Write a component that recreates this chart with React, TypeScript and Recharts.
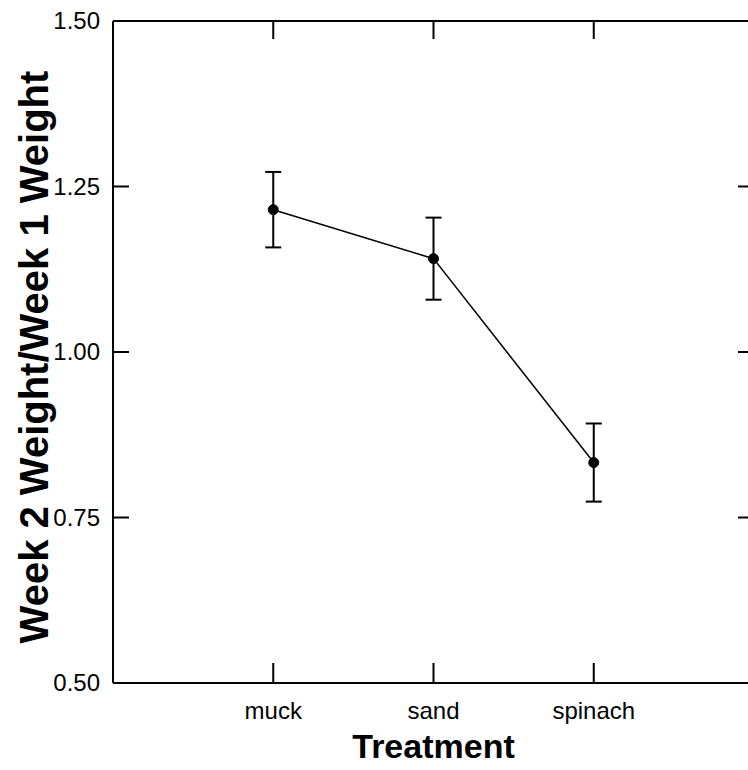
import {
    LineChart,
    Line,
    XAxis,
    YAxis,
    ErrorBar,
    Label,
} from "recharts";

const treatments = ["muck", "sand", "spinach"];
const positions = [1, 2, 3];
const ratios = [1.215, 1.141, 0.833];
const errors = [0.057, 0.062, 0.059];
const yTicks = [0.5, 0.75, 1.0, 1.25, 1.5];
const innerYTicks = [0.75, 1.0, 1.25];

const data = positions.map((p, i) => ({
    pos: p,
    ratio: ratios[i],
    err: errors[i],
}));

const font = "'Liberation Sans', Arial, sans-serif";

function BottomTick(props: any) {
    const { x, y, payload } = props;
    const idx = positions.indexOf(payload.value);
    return (
        <g>
            <line x1={x} x2={x} y1={y} y2={y - 20} stroke="#000" strokeWidth={2} />
            <text x={x} y={y + 36} textAnchor="middle" fontSize={24} fontFamily={font} fill="#000">
                {idx >= 0 ? treatments[idx] : ""}
            </text>
        </g>
    );
}

function TopTick(props: any) {
    const { x, y } = props;
    return <line x1={x} x2={x} y1={y} y2={y + 18} stroke="#000" strokeWidth={2} />;
}

function LeftTick(props: any) {
    const { x, y, payload } = props;
    const inner = innerYTicks.includes(payload.value);
    return (
        <g>
            {inner && <line x1={x} x2={x + 16} y1={y} y2={y} stroke="#000" strokeWidth={2} />}
            <text x={x - 13} y={y + 8} textAnchor="end" fontSize={24} fontFamily={font} fill="#000">
                {payload.value.toFixed(2)}
            </text>
        </g>
    );
}

function RightTick(props: any) {
    const { x, y } = props;
    return <line x1={x} x2={x - 16} y1={y} y2={y} stroke="#000" strokeWidth={2} />;
}

function YTitle() {
    const cy = 357;
    const cx = 48;
    return (
        <text
            x={cx}
            y={cy}
            transform={`rotate(-90, ${cx}, ${cy})`}
            textAnchor="middle"
            fontSize={40}
            fontWeight="bold"
            fontFamily={font}
            fill="#000"
        >
            Week 2 Weight/Week 1 Weight
        </text>
    );
}

export default function App() {
    return (
        <div
            style={{
                position: "absolute",
                left: 0,
                top: 0,
                width: 748,
                height: 770,
                overflow: "hidden",
                background: "#fff",
            }}
        >
            <LineChart
                width={760}
                height={770}
                data={data}
                margin={{ top: 0, right: 0, bottom: 0, left: 0 }}
            >
                <XAxis
                    dataKey="pos"
                    type="number"
                    domain={[0, 4]}
                    ticks={positions}
                    height={87}
                    tickSize={0}
                    tickMargin={0}
                    tickLine={false}
                    axisLine={{ stroke: "#000", strokeWidth: 2 }}
                    tick={<BottomTick />}
                >
                    <Label
                        value="Treatment"
                        position="insideBottom"
                        offset={12}
                        fontSize={34}
                        fontWeight="bold"
                        fontFamily={font}
                        fill="#000"
                    />
                </XAxis>
                <XAxis
                    xAxisId="top"
                    orientation="top"
                    dataKey="pos"
                    type="number"
                    domain={[0, 4]}
                    ticks={positions}
                    height={21}
                    tickSize={0}
                    tickMargin={0}
                    tickLine={false}
                    axisLine={{ stroke: "#000", strokeWidth: 2 }}
                    tick={<TopTick />}
                />
                <YAxis
                    type="number"
                    domain={[0.5, 1.5]}
                    ticks={yTicks}
                    width={113}
                    tickSize={0}
                    tickMargin={0}
                    tickLine={false}
                    axisLine={{ stroke: "#000", strokeWidth: 2 }}
                    tick={<LeftTick />}
                    label={<YTitle />}
                />
                <YAxis
                    yAxisId="right"
                    orientation="right"
                    type="number"
                    domain={[0.5, 1.5]}
                    ticks={innerYTicks}
                    width={6}
                    tickSize={0}
                    tickMargin={0}
                    tickLine={false}
                    axisLine={{ stroke: "#000", strokeWidth: 2 }}
                    tick={<RightTick />}
                />
                {/* invisible copy so the top and right frame axes get drawn */}
                <Line
                    xAxisId="top"
                    yAxisId="right"
                    dataKey="ratio"
                    stroke="none"
                    dot={false}
                    activeDot={false}
                    legendType="none"
                    isAnimationActive={false}
                />
                <Line
                    type="linear"
                    dataKey="ratio"
                    stroke="#000"
                    strokeWidth={1.5}
                    dot={{ r: 5, fill: "#000", stroke: "#000", strokeWidth: 1 }}
                    activeDot={false}
                    isAnimationActive={false}
                >
                    <ErrorBar
                        dataKey="err"
                        direction="y"
                        width={8}
                        stroke="#000"
                        strokeWidth={2}
                        isAnimationActive={false}
                    />
                </Line>
            </LineChart>
        </div>
    );
}
